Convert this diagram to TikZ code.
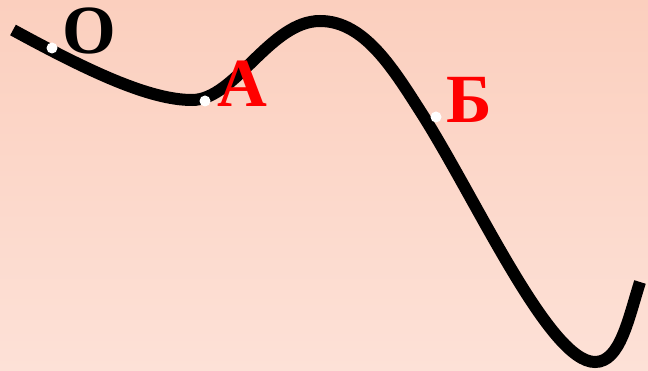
\documentclass[tikz,border=0pt]{standalone}
\usepackage{fontspec}
\setmainfont{Liberation Serif}
\begin{document}
\begin{tikzpicture}[x=1pt,y=-1pt,
  lbl/.style={anchor=base west,inner sep=0pt,font=\fontsize{69}{69}\selectfont\bfseries},
  pointdot/.style={circle,fill=white,inner sep=0pt,minimum size=11pt}]
\useasboundingbox (0,0) rectangle (648,371);
\shade[top color={rgb,255:red,251;green,207;blue,190},bottom color={rgb,255:red,253;green,225;blue,215}] (0,0) rectangle (648,371);
\coordinate (s) at (13,30);
\coordinate (m1) at (192,100);
\coordinate (pk) at (320,21);
\coordinate (d) at (424,117);
\coordinate (m2) at (595,362);
\coordinate (e) at (640,282);
\draw[line width=12pt,black]
  (s) .. controls (90,72) and (150,100) .. (m1)
  .. controls (235,100) and (270,21) .. (pk)
  .. controls (365,21) and (394,70) .. (d)
  .. controls (479,205) and (550,362) .. (m2)
  .. controls (620,362) and (628,320) .. (e);
\node[pointdot] (o) at (52,48) {};
\node[pointdot] (a) at (205,101) {};
\node[pointdot] (b) at (436,117) {};
\node[lbl,text=black] (lo) at (62.5,54) {О};
\node[lbl,text=red] (la) at (217,107) {А};
\node[lbl,text=red] (lb) at (446.5,122.5) {Б};
\end{tikzpicture}
\end{document}
